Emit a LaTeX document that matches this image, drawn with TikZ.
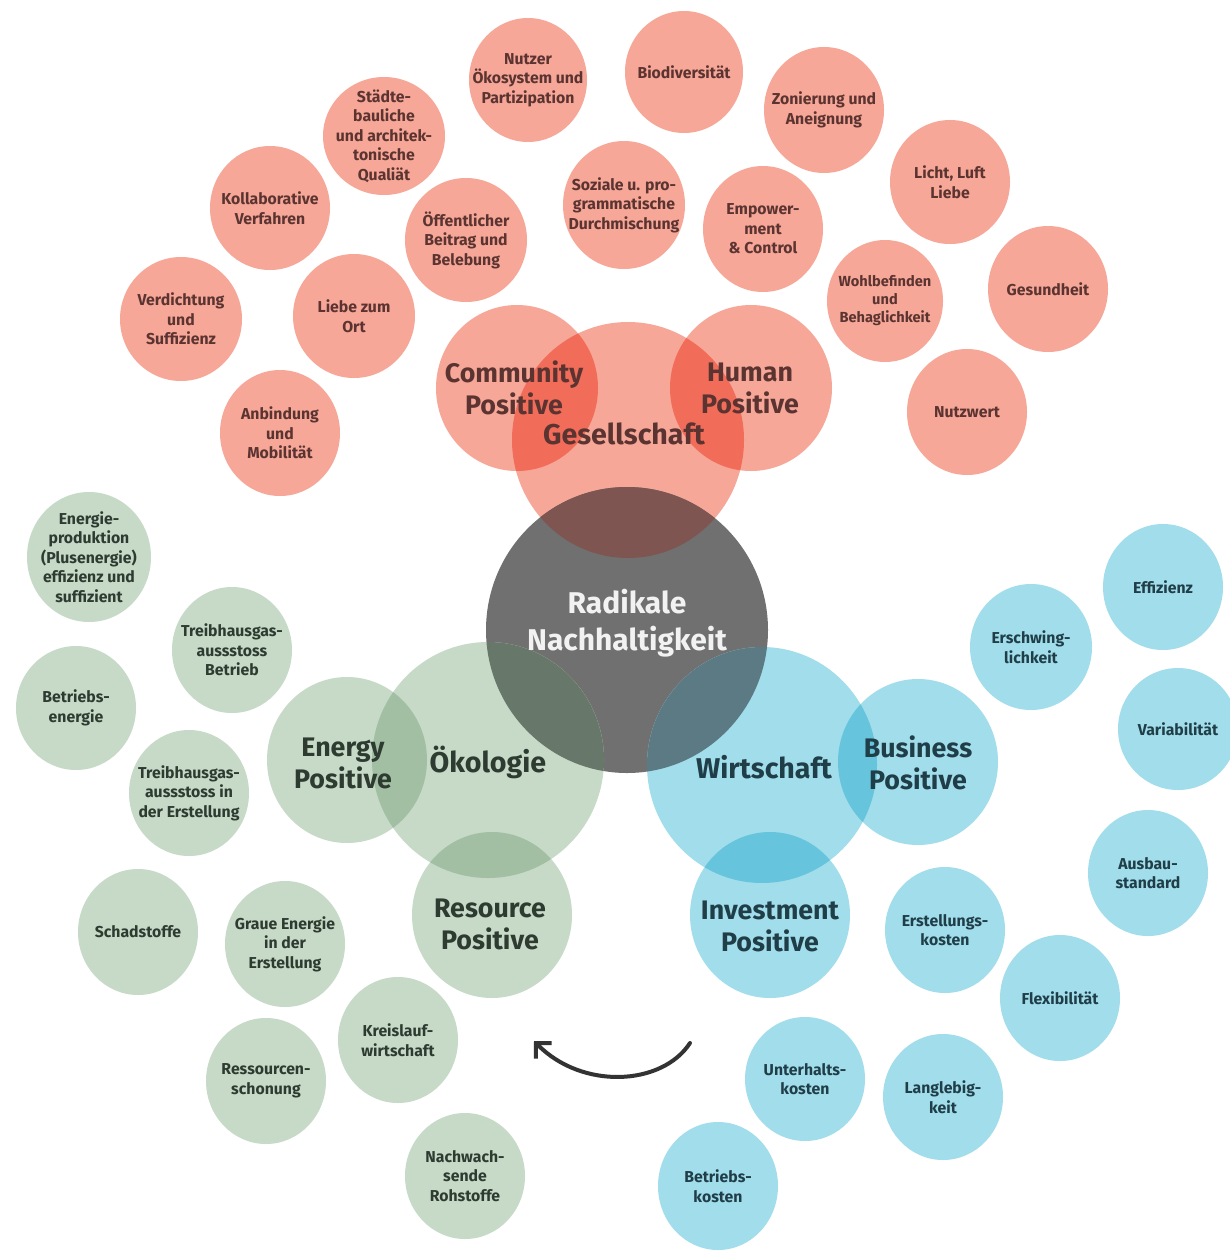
\documentclass[tikz,border=0pt]{standalone}
\usepackage{fontspec}
\setmainfont{Fira Sans}
\usetikzlibrary{arrows.meta}
\pgfdeclarelayer{bg}
\pgfdeclarelayer{mid}
\pgfsetlayers{bg,mid,main}

\definecolor{salmon}{HTML}{F6A797}
\definecolor{redov}{HTML}{F26C5A}
\definecolor{brownov}{HTML}{7E5550}
\definecolor{greyc}{HTML}{707070}
\definecolor{greenc}{HTML}{C6DAC7}
\definecolor{greenov}{HTML}{A2BFA4}
\definecolor{greygreen}{HTML}{67776A}
\definecolor{bluec}{HTML}{A2DDEB}
\definecolor{blueov}{HTML}{66C4DD}
\definecolor{greyblue}{HTML}{5C7A83}
\definecolor{txtR}{HTML}{5B3431}
\definecolor{txtG}{HTML}{2E3B31}
\definecolor{txtB}{HTML}{1F3E48}
\definecolor{txtW}{HTML}{F2F2F2}
\definecolor{arrowc}{HTML}{333333}

\tikzset{
  lbl/.style={align=center, inner sep=0pt, font=\bfseries\fontsize{15.8}{19.5}\selectfont},
  lblsm/.style={align=center, inner sep=0pt, font=\bfseries\fontsize{14.6}{18}\selectfont},
  big/.style={align=center, inner sep=0pt, font=\bfseries\fontsize{26.8}{32}\selectfont},
  cat/.style={align=center, inner sep=0pt, font=\bfseries\fontsize{28.6}{32}\selectfont},
  core/.style={align=center, inner sep=0pt, font=\bfseries\fontsize{30}{37}\selectfont},
  sR/.style={lbl, text=txtR},
  sG/.style={lbl, text=txtG},
  sB/.style={lbl, text=txtB},
  arrowline/.style={draw=arrowc, line width=4pt, line cap=round,
    -{Straight Barb[length=11pt, width=22pt, line width=4pt]}}
}

% #1 name, #2 x, #3 y, #4 rx, #5 ry, #6 fill, #7 text style, #8 text
\newcommand\mybub[8]{%
  \begin{pgfonlayer}{bg}\fill[#6] (#2,#3) ellipse [x radius=#4pt, y radius=#5pt];\end{pgfonlayer}
  \node[#7] (#1) at (#2,#3) {#8};}

\begin{document}
\begin{tikzpicture}[x=1pt, y=-1pt]
\useasboundingbox (0,0) rectangle (1230,1255);

% ---------- background and big circles: base fills ----------
\begin{pgfonlayer}{bg}
  \fill[white] (0,0) rectangle (1230,1255);
  \fill[salmon] (517,388) ellipse [x radius=81pt, y radius=83pt];
  \fill[salmon] (751,388) ellipse [x radius=81pt, y radius=83pt];
  \fill[salmon] (628,440) ellipse [x radius=116pt, y radius=118pt];
  \fill[greyc] (627,630) ellipse [x radius=141pt, y radius=143pt];
  \fill[greenc] (488,760) ellipse [x radius=116pt, y radius=118pt];
  \fill[greenc] (347,760) ellipse [x radius=80pt, y radius=83pt];
  \fill[greenc] (492,915) ellipse [x radius=80pt, y radius=83pt];
  \fill[bluec] (762,765) ellipse [x radius=115pt, y radius=118pt];
  \fill[bluec] (918,762) ellipse [x radius=80pt, y radius=83pt];
  \fill[bluec] (770,915) ellipse [x radius=80pt, y radius=83pt];
\end{pgfonlayer}

% ---------- overlaps ----------
\begin{pgfonlayer}{mid}
  \begin{scope}
    \clip (628,440) ellipse [x radius=116pt, y radius=118pt];
    \fill[redov] (517,388) ellipse [x radius=81pt, y radius=83pt];
    \fill[redov] (751,388) ellipse [x radius=81pt, y radius=83pt];
  \end{scope}
  \begin{scope}
    \clip (627,630) ellipse [x radius=141pt, y radius=143pt];
    \fill[brownov] (628,440) ellipse [x radius=116pt, y radius=118pt];
    \fill[greygreen] (488,760) ellipse [x radius=116pt, y radius=118pt];
    \fill[greyblue] (762,765) ellipse [x radius=115pt, y radius=118pt];
  \end{scope}
  \begin{scope}
    \clip (488,760) ellipse [x radius=116pt, y radius=118pt];
    \fill[greenov] (347,760) ellipse [x radius=80pt, y radius=83pt];
    \fill[greenov] (492,915) ellipse [x radius=80pt, y radius=83pt];
  \end{scope}
  \begin{scope}
    \clip (762,765) ellipse [x radius=115pt, y radius=118pt];
    \fill[blueov] (918,762) ellipse [x radius=80pt, y radius=83pt];
    \fill[blueov] (770,915) ellipse [x radius=80pt, y radius=83pt];
  \end{scope}
\end{pgfonlayer}

% ---------- big labels ----------
\node[big, text=txtR] (community) at (514,388) {Community\\Positive};
\node[big, text=txtR] (human) at (750,388) {Human\\Positive};
\node[cat, text=txtR] (gesellschaft) at (624,434) {Gesellschaft};
\node[core, text=txtW] (radikal) at (627,623) {Radikale\\Nachhaltigkeit};
\node[big, text=txtG] (energy) at (343,763) {Energy\\Positive};
\node[cat, text=txtG] (oekologie) at (488,762) {Ökologie};
\node[big, text=txtG] (resource) at (490,924) {Resource\\Positive};
\node[cat, text=txtB] (wirtschaft) at (764,767) {Wirtschaft};
\node[big, text=txtB] (business) at (918,763) {Business\\Positive};
\node[big, text=txtB] (investment) at (770,926) {Investment\\Positive};

% ---------- red bubbles ----------
\mybub{nutzer}{528}{80}{59}{62}{salmon}{sR}{Nutzer\\Ökosystem und\\Partizipation}
\mybub{biodiv}{684}{72}{59}{61}{salmon}{sR}{Biodiversität}
\mybub{zonier}{824}{110}{60}{63}{salmon}{sR}{Zonierung und\\Aneignung}
\mybub{licht}{950}{182}{60}{62}{salmon}{sR}{Licht, Luft\\Liebe}
\mybub{gesund}{1048}{289}{60}{63}{salmon}{sR}{Gesundheit}
\mybub{nutzwert}{967}{412}{60}{63}{salmon}{sR}{Nutzwert}
\mybub{wohl}{885}{301}{58}{61}{salmon}{lblsm, text=txtR}{Wohlbefinden\\und\\Behaglichkeit}
\mybub{empow}{763}{229}{60}{63}{salmon}{sR}{Empower-\\ment\\\& Control}
\mybub{sozial}{624}{205}{61}{64}{salmon}{sR}{Soziale u. pro-\\grammatische\\Durchmischung}
\mybub{oeff}{466}{240}{61}{62}{salmon}{sR}{Öffentlicher\\Beitrag und\\Belebung}
\mybub{staedte}{384}{136}{61}{59}{salmon}{sR}{Städte-\\bauliche\\und architek-\\tonische\\Qualiät}
\mybub{kollab}{270}{208}{60}{62}{salmon}{sR}{Kollaborative\\Verfahren}
\mybub{liebe}{354}{316}{61}{62}{salmon}{sR}{Liebe zum\\Ort}
\mybub{verdicht}{181}{319}{61}{62}{salmon}{sR}{Verdichtung\\und\\Suffizienz}
\mybub{anbind}{280}{433}{60}{63}{salmon}{sR}{Anbindung\\und\\Mobilität}

% ---------- green bubbles ----------
\mybub{energie}{89}{557}{62}{65}{greenc}{sG}{Energie-\\produktion\\(Plusenergie)\\effizienz und\\suffizient}
\mybub{treibB}{232}{650}{60}{63}{greenc}{sG}{Treibhausgas-\\aussstoss\\Betrieb}
\mybub{betrE}{76}{708}{60}{62}{greenc}{sG}{Betriebs-\\energie}
\mybub{treibE}{189}{793}{60}{63}{greenc}{sG}{Treibhausgas-\\aussstoss in\\der Erstellung}
\mybub{schad}{138}{932}{60}{63}{greenc}{sG}{Schadstoffe}
\mybub{graue}{285}{944}{60}{63}{greenc}{sG}{Graue Energie\\in der\\Erstellung}
\mybub{kreis}{398}{1040}{60}{63}{greenc}{sG}{Kreislauf-\\wirtschaft}
\mybub{ressourc}{266}{1081}{60}{63}{greenc}{sG}{Ressourcen-\\schonung}
\mybub{nachw}{465}{1176}{60}{63}{greenc}{sG}{Nachwach-\\sende\\Rohstoffe}

% ---------- blue bubbles ----------
\mybub{effiz}{1163}{587}{60}{63}{bluec}{sB}{Effizienz}
\mybub{erschw}{1031}{647}{61}{63}{bluec}{sB}{Erschwing-\\lichkeit}
\mybub{variab}{1178}{729}{60}{61}{bluec}{sB}{Variabilität}
\mybub{ausbau}{1148}{873}{60}{63}{bluec}{sB}{Ausbau-\\standard}
\mybub{erstell}{945}{930}{60}{63}{bluec}{sB}{Erstellungs-\\kosten}
\mybub{flex}{1060}{998}{60}{63}{bluec}{sB}{Flexibilität}
\mybub{unterh}{805}{1079}{60}{62}{bluec}{sB}{Unterhalts-\\kosten}
\mybub{langl}{943}{1097}{60}{63}{bluec}{sB}{Langlebig-\\keit}
\mybub{betrK}{718}{1186}{60}{64}{bluec}{sB}{Betriebs-\\kosten}

% ---------- arrow ----------
\coordinate (arrS) at (690,1043);
\coordinate (arrE) at (534,1041);
\draw[arrowline] (arrS) .. controls (662,1086) and (582,1090) .. (arrE);
\end{tikzpicture}
\end{document}
